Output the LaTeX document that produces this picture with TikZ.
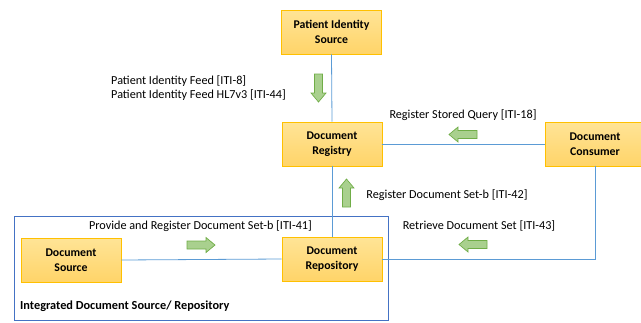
\documentclass[tikz,border=0pt]{standalone}
\usepackage{fontspec}
\setmainfont{Carlito}
\definecolor{boxfill1}{RGB}{255,228,150}
\definecolor{boxfill2}{RGB}{255,212,105}
\definecolor{boxedge}{RGB}{255,192,0}
\definecolor{linkblue}{RGB}{91,155,213}
\definecolor{groupblue}{RGB}{68,114,196}
\definecolor{arrfill}{RGB}{169,208,142}
\definecolor{arredge}{RGB}{112,173,71}
\tikzset{
  actor/.style={draw=boxedge, line width=0.9pt, top color=boxfill1, bottom color=boxfill2,
    minimum width=100pt, minimum height=44pt, align=center, inner sep=2pt,
    font=\fontsize{11.8}{15.5}\selectfont\bfseries},
  link/.style={draw=linkblue, line width=0.8pt},
  lbl/.style={font=\fontsize{12.2}{14}\selectfont, inner sep=0pt},
  barrow/.pic={\path[fill=arrfill, draw=arredge, line width=0.7pt]
    (0,-4) -- (19,-4) -- (19,-7.5) -- (28,0) -- (19,7.5) -- (19,4) -- (0,4) -- cycle;}
}
\begin{document}
\begin{tikzpicture}[x=1pt,y=-1pt]
\useasboundingbox (0,0) rectangle (641,322);
\clip (0,0) rectangle (641,322);
% group box
\draw[draw=groupblue, line width=0.8pt] (14,216) rectangle (388,320);
% actors
\node[actor] (pis) at (331.5,32) {Patient Identity\\Source};
\node[actor] (reg) at (332,144) {Document\\Registry};
\node[actor] (cons) at (595,144) {Document\\Consumer};
\node[actor] (src) at (71,260) {Document\\Source};
\node[actor] (rep) at (332,259) {Document\\Repository};
% connectors
\draw[link] (pis.south) -- (reg.north);
\draw[link] (reg.east) -- (cons.west);
\draw[link] (reg.south) -- (rep.north);
\draw[link] (src.east) -- (rep.west);
\draw[link] (rep.east) -| (cons.south);
% block arrows
\pic[rotate=-90] at (318.5,74) {barrow};
\pic[rotate=180] at (477,134.5) {barrow};
\pic[rotate=90] at (346.5,207) {barrow};
\pic at (187,245) {barrow};
\pic[rotate=180] at (487,244.5) {barrow};
% labels
\node[lbl, anchor=west, align=left] (l1) at (111,88) {Patient Identity Feed [ITI-8]\\Patient Identity Feed HL7v3 [ITI-44]};
\node[lbl] (l2) at (463,115) {Register Stored Query [ITI-18]};
\node[lbl] (l3) at (447,195) {Register Document Set-b [ITI-42]};
\node[lbl] (l4) at (200.5,226) {Provide and Register Document Set-b [ITI-41]};
\node[lbl] (l5) at (479,226) {Retrieve Document Set [ITI-43]};
\node[lbl, anchor=west, font=\fontsize{12.3}{13}\selectfont\bfseries] (l6) at (20,306) {Integrated Document Source/ Repository};
\end{tikzpicture}
\end{document}
